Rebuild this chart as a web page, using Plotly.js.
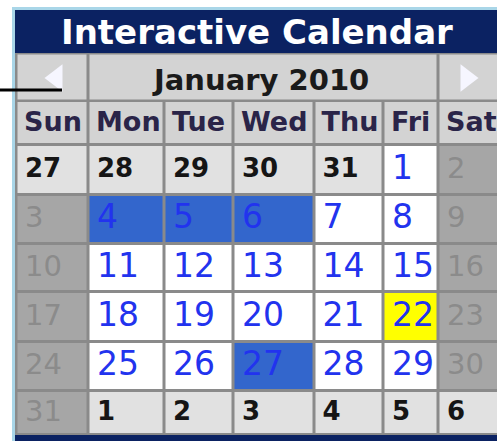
<!DOCTYPE html>
<html>
<head>
<meta charset="utf-8">
<script src="https://cdn.plot.ly/plotly-3.0.1.min.js"></script>
<style>html,body{margin:0;padding:0;background:#fff;}#chart{width:497px;height:441px;}</style>
</head>
<body>
<div id="chart"></div>
<script>
// ---- data ----
const calendarTitle = 'Interactive Calendar';
const monthLabel = 'January 2010';
const weekdays = ['Sun', 'Mon', 'Tue', 'Wed', 'Thu', 'Fri', 'Sat'];
const week1 = [27, 28, 29, 30, 31, 1, 2];
const week2 = [3, 4, 5, 6, 7, 8, 9];
const week3 = [10, 11, 12, 13, 14, 15, 16];
const week4 = [17, 18, 19, 20, 21, 22, 23];
const week5 = [24, 25, 26, 27, 28, 29, 30];
const week6 = [31, 1, 2, 3, 4, 5, 6];
const selectedDays = [4, 5, 6, 27];
const todayDay = 22;
const navArrows = ['prev', 'next'];

// ---- layout (pixel-space axes) ----
const W = 497, H = 441;
const colEdges = [16.5, 88.5, 164.5, 233.5, 314, 383.5, 438.5, 502];
const rowEdges = [101, 144.5, 194.5, 243.5, 291.5, 341.5, 390.5, 434.5];
const navEdgesX = [16.5, 88.5, 438.5, 502];
const navEdgesY = [53.5, 101];
const GAP = 3;

const stateColors = ['#d3d3d3', '#e1e1e1', '#a6a6a6', '#ffffff', '#3366cc', '#ffff00'];
const STATE = {header: 0, other: 1, weekend: 2, normal: 3, selected: 4, today: 5};
const colorscale = stateColors.map((c, i) => [i / (stateColors.length - 1), c]);

const weeks = [week1, week2, week3, week4, week5, week6];
function stateOf(r, c, d) {
  const inMonth = !((r === 0 && d > 7) || (r >= weeks.length - 2 && d < 15));
  if (!inMonth) return 'other';
  if (c === 0 || c === 6) return 'weekend';
  if (d === todayDay) return 'today';
  if (selectedDays.includes(d)) return 'selected';
  return 'normal';
}

const z = [weekdays.map(() => STATE.header)];
weeks.forEach((wk, r) => z.push(wk.map((d, c) => STATE[stateOf(r, c, d)])));

const grid = {
  type: 'heatmap', x: colEdges, y: rowEdges, z: z,
  colorscale: colorscale, zmin: 0, zmax: stateColors.length - 1,
  showscale: false, xgap: GAP, ygap: GAP, hoverinfo: 'skip'
};
const nav = {
  type: 'heatmap', x: navEdgesX, y: navEdgesY, z: [[0, 0, 0]],
  colorscale: colorscale, zmin: 0, zmax: stateColors.length - 1,
  showscale: false, xgap: GAP, ygap: GAP, hoverinfo: 'skip'
};

const PAD = 7;
const cellLeft = c => colEdges[c] + GAP / 2 + PAD;
const rowMid = r => (rowEdges[r] + rowEdges[r + 1]) / 2 + 1;

const header = {
  type: 'scatter', mode: 'text', hoverinfo: 'skip',
  x: weekdays.map((_, c) => cellLeft(c) - 1), y: weekdays.map(() => rowMid(0)),
  text: weekdays, textposition: 'middle right',
  textfont: {family: 'DejaVu Sans', size: 27, color: '#2a2448', weight: 'bold'}
};

const styles = {
  other: {family: 'DejaVu Sans', size: 26, color: '#151515', weight: 'bold'},
  weekend: {family: 'DejaVu Sans', size: 29, color: '#8b8b8b'},
  blue: {family: 'DejaVu Sans', size: 33, color: '#2233ee'}
};
const groups = {other: {x: [], y: [], t: []}, weekend: {x: [], y: [], t: []}, blue: {x: [], y: [], t: []}};
weeks.forEach((wk, r) => wk.forEach((d, c) => {
  const s = stateOf(r, c, d);
  const g = (s === 'other' || s === 'weekend') ? s : 'blue';
  groups[g].x.push(cellLeft(c));
  groups[g].y.push(rowMid(r + 1));
  groups[g].t.push(String(d));
}));
const dayTraces = Object.keys(groups).map(k => ({
  type: 'scatter', mode: 'text', hoverinfo: 'skip',
  x: groups[k].x, y: groups[k].y, text: groups[k].t,
  textposition: 'middle right', textfont: styles[k]
}));

const arrows = {
  type: 'scatter', mode: 'markers', hoverinfo: 'skip',
  x: navArrows.map(a => a === 'prev' ? navEdgesX[0] + 40 : navEdgesX[2] + 28),
  y: navArrows.map(a => 78),
  marker: {symbol: navArrows.map(a => a === 'prev' ? 'triangle-left' : 'triangle-right'),
           size: 24, color: '#f6f6ff', line: {width: 0}}
};

const layout = {
  width: W, height: H, margin: {l: 0, r: 0, t: 0, b: 0, pad: 0},
  paper_bgcolor: '#ffffff', plot_bgcolor: '#ffffff', showlegend: false,
  xaxis: {range: [0, W], visible: false, fixedrange: true},
  yaxis: {range: [H, 0], visible: false, fixedrange: true},
  shapes: [
    {type: 'rect', layer: 'below', x0: 12, x1: 510, y0: 7, y1: 445, fillcolor: '#a9d6e8', line: {width: 0}},
    {type: 'rect', layer: 'below', x0: 15, x1: 510, y0: 10, y1: 445, fillcolor: '#0b2262', line: {width: 0}},
    {type: 'rect', layer: 'below', x0: 15, x1: 510, y0: 53, y1: 435, fillcolor: '#8a8a8a', line: {width: 0}},
    {type: 'line', layer: 'above', x0: 0, x1: 62, y0: 90, y1: 90, line: {color: '#000000', width: 3}}
  ],
  annotations: [
    {x: 257, y: 32, xref: 'x', yref: 'y', text: '<b>' + calendarTitle + '</b>', showarrow: false,
     xanchor: 'center', yanchor: 'middle', font: {family: 'DejaVu Sans', size: 34, color: '#ffffff'}},
    {x: (navEdgesX[1] + navEdgesX[2]) / 2 - 3, y: 80, xref: 'x', yref: 'y', text: '<b>' + monthLabel + '</b>', showarrow: false,
     xanchor: 'center', yanchor: 'middle', font: {family: 'DejaVu Sans', size: 29, color: '#1a1a1a'}}
  ]
};

Plotly.newPlot('chart', [grid, nav, header].concat(dayTraces, [arrows]), layout, {displayModeBar: false, staticPlot: true});
</script>
</body>
</html>
